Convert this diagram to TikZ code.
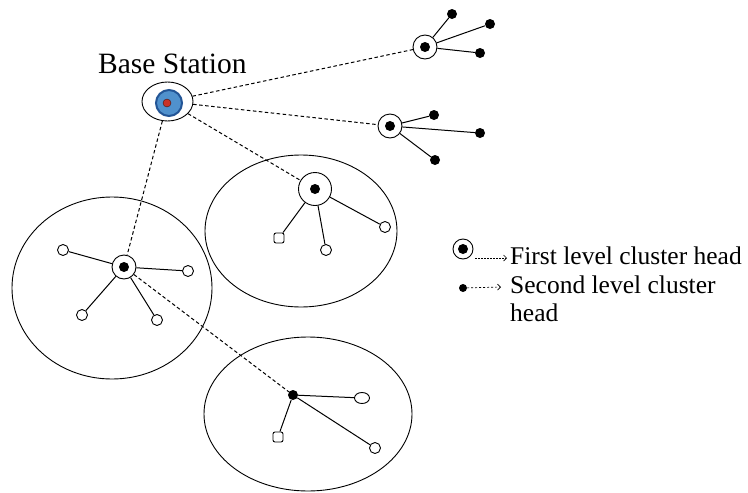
\documentclass[tikz,border=0pt]{standalone}
\usepackage{fontspec}
\setmainfont{Liberation Serif}
\usetikzlibrary{shapes.geometric,arrows.meta}
\begin{document}
\begin{tikzpicture}[x=1pt,y=-1pt,
  ring/.style={circle,draw,line width=0.9pt,minimum size=24pt,inner sep=0pt,fill=white},
  hdot/.style={circle,fill=black,minimum size=10pt,inner sep=0pt},
  sdot/.style={circle,fill=black,minimum size=10pt,inner sep=0pt},
  leaf/.style={circle,draw,line width=0.9pt,minimum size=11pt,inner sep=0pt,fill=white},
  sqleaf/.style={rectangle,rounded corners=2pt,draw,line width=0.9pt,minimum size=10pt,inner sep=0pt,fill=white},
  link/.style={line width=1pt},
  dlink/.style={line width=1pt,dash pattern=on 3.5pt off 2.5pt},
  zone/.style={ellipse,draw,line width=0.9pt,inner sep=0pt},
  lbl/.style={font=\fontsize{25.5}{30}\selectfont,inner sep=0pt,anchor=base west}
]
\useasboundingbox (0,0) rectangle (748,493);
\fill[white] (0,0) rectangle (748,493);

% cluster zones
\node[zone,minimum width=200pt,minimum height=182pt] (zL) at (112,288) {};
\node[zone,minimum width=192pt,minimum height=152pt] (zM) at (301,231) {};
\node[zone,minimum width=208pt,minimum height=154pt] (zB) at (308,414) {};

% base station
\node[ellipse,draw,line width=0.9pt,minimum width=51pt,minimum height=39pt,inner sep=0pt] (bs) at (167.5,101.5) {};
\node[circle,draw={rgb,255:red,35;green,85;blue,150},line width=2pt,fill={rgb,255:red,80;green,145;blue,205},minimum size=26pt,inner sep=0pt] (bsin) at (169,103) {};
\node[circle,fill={rgb,255:red,200;green,50;blue,40},draw={rgb,255:red,60;green,20;blue,20},minimum size=8pt,inner sep=0pt] (bsc) at (167,103) {};
\node[lbl,font=\fontsize{29.5}{32}\selectfont] (bslbl) at (98,73) {Base Station};

% first level cluster heads
\node[ring] (ch1) at (425,47) {};
\node[hdot] (ch1d) at (425,47) {};
\node[ring] (ch2) at (390,126) {};
\node[hdot] (ch2d) at (390,126) {};
\node[ring,minimum size=33pt] (ch3) at (315,189) {};
\node[hdot] (ch3d) at (315,189) {};
\node[ring] (ch4) at (124,267) {};
\node[hdot] (ch4d) at (124,267) {};

% second level cluster head (bottom)
\node[sdot] (ch5) at (293,395) {};

% second level heads attached to ch1, ch2
\node[sdot] (a1) at (452,14) {};
\node[sdot] (a2) at (490,24) {};
\node[sdot] (a3) at (480,53) {};
\node[sdot] (b1) at (434,115) {};
\node[sdot] (b2) at (480,133) {};
\node[sdot] (b3) at (435,160) {};

% leaves
\node[leaf] (l1) at (63,250) {};
\node[leaf] (l2) at (188,271) {};
\node[leaf] (l3) at (82,315) {};
\node[leaf] (l4) at (157,320) {};
\node[sqleaf] (m1) at (279,238) {};
\node[leaf] (m2) at (326,250) {};
\node[leaf] (m3) at (385,227) {};
\node[leaf,minimum width=15pt,minimum height=11pt,ellipse] (n1) at (362,398) {};
\node[sqleaf] (n2) at (278,437) {};
\node[leaf] (n3) at (375,448) {};

% dashed links
\draw[dlink] (bs) -- (ch1);
\draw[dlink] (bs) -- (ch2);
\draw[dlink] (bs) -- (ch3);
\draw[dlink] (bs) -- (ch4);
\draw[dlink] (ch4) -- (ch5);

% solid links
\draw[link] (ch1) -- (a1);
\draw[link] (ch1) -- (a2);
\draw[link] (ch1) -- (a3);
\draw[link] (ch2) -- (b1);
\draw[link] (ch2) -- (b2);
\draw[link] (ch2) -- (b3);
\draw[link] (ch4) -- (l1);
\draw[link] (ch4) -- (l2);
\draw[link] (ch4) -- (l3);
\draw[link] (ch4) -- (l4);
\draw[link] (ch3) -- (m1);
\draw[link] (ch3) -- (m2);
\draw[link] (ch3) -- (m3);
\draw[link] (ch5) -- (n1);
\draw[link] (ch5) -- (n2);
\draw[link] (ch5) -- (n3);

% legend
\node[ring,minimum size=20pt] (lg1) at (463,249) {};
\node[hdot] (lg1d) at (463,249) {};
\coordinate (lg1s) at (475,258);
\coordinate (lg1e) at (507,258);
\draw[line width=0.7pt,dash pattern=on 1.5pt off 1.5pt,-{Straight Barb[length=3pt,width=6pt]}] (lg1s) -- (lg1e);
\node[lbl] (t1) at (510,264) {First level cluster head};
\node[sdot,minimum size=8pt] (lg2) at (463,288) {};
\coordinate (lg2e) at (501,287);
\draw[line width=0.7pt,dash pattern=on 2pt off 2pt,-{Straight Barb[length=3pt,width=6pt]}] (lg2) -- (lg2e);
\node[lbl] (t2) at (510,293) {Second level cluster};
\node[lbl] (t3) at (510,321) {head};
\end{tikzpicture}
\end{document}
